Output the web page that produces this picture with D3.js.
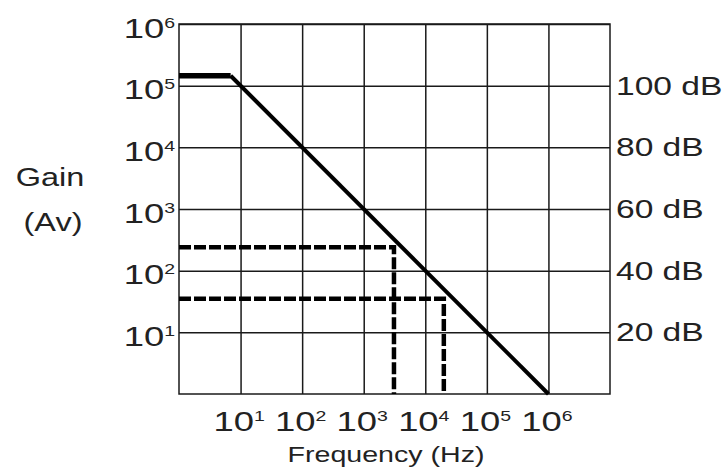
<!DOCTYPE html>
<html lang="en-US">
  <head>
    <meta charset="utf-8">
    <style>
      body { margin: 0; background: #fff; }
      svg text { font-family: "Liberation Sans", Arial, sans-serif; fill: #222; }
    </style>
  </head>
  <body>
    <div id="chart"></div>
    <script src="https://cdnjs.cloudflare.com/ajax/libs/d3/7.8.5/d3.min.js"></script>
    <script>
      var WIDTH = 725;
      var HEIGHT = 473;

      // decades shown on the two log axes
      var freqTicks = [1e1, 1e2, 1e3, 1e4, 1e5, 1e6];
      var gainTicks = [1e1, 1e2, 1e3, 1e4, 1e5, 1e6];
      // dB scale on the right, sitting on the gain decades
      var dbGains = [1e5, 1e4, 1e3, 1e2, 1e1];
      var dbLabels = ['100 dB', '80 dB', '60 dB', '40 dB', '20 dB'];

      // open loop response: flat, then -20 dB/decade to unity gain at 1 MHz
      var responseFreq = [1, 6.9, 1e6];
      var responseGain = [1.45e5, 1.45e5, 1];

      // the two dashed examples (gain -> bandwidth)
      var exampleFreq = [3100, 20000];
      var exampleGain = [240, 35];

      var LEFT = 179, RIGHT = 610, TOP = 24, BOTTOM = 394;
      var SX = 1.3; // lettering in the original is stretched sideways

      var x = d3.scaleLog().domain([1, 1e7]).range([LEFT, RIGHT]);
      var y = d3.scaleLog().domain([1, 1e6]).range([BOTTOM, TOP]);

      var svg = d3.select('#chart').append('svg').attr('width', WIDTH).attr('height', HEIGHT);

      // vertical grid + frequency labels
      var xAxis = svg.append('g')
        .attr('transform', 'translate(0,' + BOTTOM + ')')
        .call(d3.axisBottom(x).tickValues(freqTicks).tickSize(-(BOTTOM - TOP)).tickFormat(() => '10'));
      // horizontal grid + gain labels
      var yAxis = svg.append('g')
        .attr('transform', 'translate(' + LEFT + ',0)')
        .call(d3.axisLeft(y).tickValues(gainTicks).tickSize(-(RIGHT - LEFT)).tickFormat(() => '10'));

      [xAxis, yAxis].forEach(function (ax) {
        ax.attr('font-family', null).attr('font-size', null);
        ax.select('.domain').remove();
        ax.selectAll('.tick line').attr('stroke', '#1a1a1a').attr('stroke-width', 1.5);
        ax.selectAll('.tick text')
          .attr('fill', '#222')
          .style('font-size', '28px')
          .attr('dy', null)
          .attr('transform', 'scale(' + SX + ',1)')
          .each(function (d) {
            d3.select(this).append('tspan')
              .attr('dy', -10)
              .style('font-size', '15px')
              .text(Math.round(Math.log10(d)));
          });
      });
      xAxis.selectAll('.tick text').attr('y', 37).attr('x', -2 / SX);
      yAxis.selectAll('.tick text').attr('x', -4 / SX).attr('y', 13);

      // plot border
      svg.append('rect')
        .attr('x', LEFT).attr('y', TOP)
        .attr('width', RIGHT - LEFT).attr('height', BOTTOM - TOP)
        .attr('fill', 'none').attr('stroke', '#1a1a1a').attr('stroke-width', 1.5);

      var line = d3.line().x(d => x(d[0])).y(d => y(d[1]));

      // dashed examples
      exampleFreq.forEach(function (f, i) {
        var g = exampleGain[i];
        svg.append('path')
          .attr('d', line([[1, g], [f, g], [f, 1]]))
          .attr('fill', 'none')
          .attr('stroke', '#000')
          .attr('stroke-width', 4.5)
          .attr('stroke-dasharray', '12 3');
      });

      // response curve (the flat part is drawn a touch heavier in the original)
      var resp = responseFreq.map((f, i) => [f, responseGain[i]]);
      svg.append('path')
        .attr('d', line(resp.slice(0, 2)))
        .attr('fill', 'none')
        .attr('stroke', '#000')
        .attr('stroke-width', 5.5);
      svg.append('path')
        .attr('d', line(resp.slice(1)))
        .attr('fill', 'none')
        .attr('stroke', '#000')
        .attr('stroke-width', 4);

      // dB labels on the right
      svg.selectAll('text.db')
        .data(dbGains)
        .join('text')
        .attr('class', 'db')
        .attr('transform', d => 'translate(616,' + (y(d) + 9) + ') scale(1.29,1)')
        .style('font-size', '26px')
        .text((d, i) => dbLabels[i]);

      // axis titles
      svg.append('text')
        .attr('transform', 'translate(50,186) scale(' + SX + ',1)')
        .attr('text-anchor', 'middle')
        .style('font-size', '25px')
        .text('Gain');
      svg.append('text')
        .attr('transform', 'translate(53,231) scale(' + SX + ',1)')
        .attr('text-anchor', 'middle')
        .style('font-size', '25px')
        .text('(Av)');
      svg.append('text')
        .attr('transform', 'translate(386,462) scale(' + SX + ',1)')
        .attr('text-anchor', 'middle')
        .style('font-size', '22px')
        .text('Frequency (Hz)');
    </script>
  </body>
</html>
